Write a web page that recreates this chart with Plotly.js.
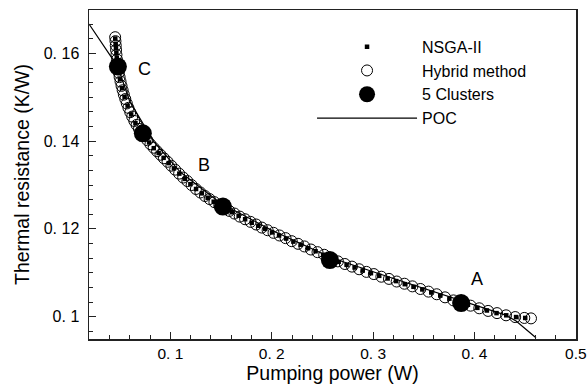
<!DOCTYPE html>
<html>
<head>
<meta charset="utf-8">
<script src="https://cdn.plot.ly/plotly-3.0.1.min.js"></script>
<style>html,body{margin:0;padding:0;background:#fff;}#chart{width:587px;height:392px;}</style>
</head>
<body>
<div id="chart"></div>
<script>
// Hybrid method (open circles)
const hybridX = [0.0455,0.0458,0.0461,0.0464,0.0468,0.0473,0.0478,0.0484,0.0491,0.0499,0.0508,0.0518,0.0529,0.0541,0.0555,0.0570,0.0586,0.0604,0.0623,0.0644,0.0666,0.0690,0.0715,0.0745,0.0773,0.0803,0.0835,0.0868,0.0902,0.0936,0.0972,0.1009,0.1047,0.1086,0.1126,0.1167,0.1209,0.1252,0.1296,0.1341,0.1387,0.1434,0.1482,0.1531,0.1581,0.1632,0.1684,0.1737,0.1791,0.1846,0.1902,0.1959,0.2017,0.2076,0.2136,0.2197,0.2259,0.2322,0.2386,0.2451,0.2517,0.2584,0.2652,0.2721,0.2791,0.2862,0.2934,0.3007,0.3081,0.3156,0.3232,0.3309,0.3387,0.3466,0.3546,0.3627,0.3709,0.3792,0.3876,0.3961,0.4047,0.4134,0.4222,0.4311,0.4401,0.4491,0.4557];
const hybridY = [0.1637,0.1628,0.1618,0.1608,0.1597,0.1586,0.1576,0.1566,0.1556,0.1546,0.1536,0.1526,0.1516,0.1506,0.1496,0.1486,0.1476,0.1466,0.1456,0.1446,0.1437,0.1428,0.1420,0.1412,0.1402,0.1393,0.1385,0.1377,0.1369,0.1361,0.1353,0.1344,0.1335,0.1326,0.1317,0.1309,0.1300,0.1291,0.1283,0.1275,0.1268,0.1261,0.1254,0.1248,0.1241,0.1235,0.1228,0.1222,0.1216,0.1210,0.1203,0.1197,0.1191,0.1185,0.1179,0.1172,0.1166,0.1160,0.1153,0.1147,0.1141,0.1132,0.1126,0.1120,0.1114,0.1108,0.1102,0.1097,0.1091,0.1086,0.1080,0.1075,0.1069,0.1063,0.1057,0.1051,0.1044,0.1037,0.1031,0.1025,0.1019,0.1013,0.1008,0.1003,0.0999,0.0997,0.0996];

// NSGA-II (small squares)
const nsgaX = [0.0456,0.0460,0.0463,0.0467,0.0471,0.0476,0.0487,0.0503,0.0523,0.0548,0.0578,0.0613,0.0655,0.0702,0.0745,0.0790,0.0836,0.0884,0.0933,0.0983,0.1035,0.1088,0.1142,0.1197,0.1253,0.1310,0.1368,0.1427,0.1487,0.1548,0.1610,0.1673,0.1737,0.1802,0.1868,0.1935,0.2003,0.2072,0.2142,0.2213,0.2285,0.2358,0.2432,0.2507,0.2583,0.2660,0.2738,0.2817,0.2897,0.2978,0.3060,0.3143,0.3227,0.3312,0.3398,0.3485,0.3573,0.3662,0.3752,0.3843,0.3935,0.4028,0.4122,0.4217,0.4313,0.4410,0.4500];
const nsgaY = [0.1634,0.1622,0.1612,0.1601,0.1590,0.1580,0.1561,0.1541,0.1521,0.1501,0.1481,0.1461,0.1441,0.1424,0.1411,0.1397,0.1384,0.1373,0.1362,0.1350,0.1338,0.1326,0.1314,0.1302,0.1291,0.1281,0.1271,0.1262,0.1253,0.1245,0.1238,0.1230,0.1222,0.1214,0.1207,0.1200,0.1192,0.1185,0.1178,0.1171,0.1164,0.1156,0.1149,0.1141,0.1133,0.1125,0.1118,0.1112,0.1105,0.1099,0.1093,0.1087,0.1081,0.1074,0.1068,0.1062,0.1055,0.1048,0.1041,0.1034,0.1027,0.1020,0.1014,0.1008,0.1003,0.0999,0.0997];

// 5 Clusters (large filled circles)
const clusterX = [0.0482,0.0728,0.1518,0.2573,0.3868];
const clusterY = [0.1570,0.1418,0.1251,0.1129,0.1031];

// POC line
const pocX = [0.0197,0.0305,0.0410,0.0480,0.0600,0.0836,0.1100,0.1500,0.2000,0.2600,0.3200,0.3900,0.4300,0.4410,0.4606];
const pocY = [0.1667,0.1631,0.1595,0.1570,0.1490,0.1399,0.1329,0.1258,0.1197,0.1133,0.1087,0.1035,0.1004,0.0990,0.0952];

// Point labels
const labelText = ['C','B','A'];
const labelX = [0.0744,0.1334,0.4028];
const labelY = [0.1564,0.1346,0.1086];

// Tick labels (as printed in the figure)
const xTickVals = [0.1,0.2,0.3,0.4,0.5];
const xTickText = ['0. 1','0. 2','0. 3','0. 4','0.5'];
const yTickVals = [0.1,0.12,0.14,0.16];
const yTickText = ['0. 1','0. 12','0. 14','0. 16'];

const FONT = 'Liberation Sans, Arial, Helvetica, sans-serif';

const traces = [
  {x: hybridX, y: hybridY, name: 'Hybrid method', type: 'scatter', mode: 'markers',
   legendrank: 2, legendgroup: 'g2',
   marker: {symbol: 'circle-open', size: 11, color: '#000', line: {width: 1, color: '#000'}}},
  {x: nsgaX, y: nsgaY, name: 'NSGA-II', type: 'scatter', mode: 'markers',
   legendrank: 1, legendgroup: 'g1',
   marker: {symbol: 'square', size: 4.5, color: '#000'}},
  {x: pocX, y: pocY, name: 'POC', type: 'scatter', mode: 'lines',
   legendrank: 4, legendgroup: 'g4',
   line: {color: '#000', width: 1.2}},
  {x: clusterX, y: clusterY, name: '5 Clusters', type: 'scatter', mode: 'markers',
   legendrank: 3, legendgroup: 'g3',
   marker: {symbol: 'circle', size: 18, color: '#000'}}
];

const annotations = labelText.map((t, i) => ({
  x: labelX[i], y: labelY[i], xref: 'x', yref: 'y', text: t, showarrow: false,
  font: {family: FONT, size: 18, color: '#000'}
}));

const layout = {
  width: 587, height: 392,
  margin: {l: 89, r: 11, t: 10, b: 53},
  paper_bgcolor: '#fff', plot_bgcolor: '#fff',
  font: {family: FONT, color: '#000'},
  showlegend: true,
  legend: {x: 0.458, y: 0.94, xanchor: 'left', yanchor: 'top',
    bgcolor: 'rgba(0,0,0,0)', font: {family: FONT, size: 16, color: '#000'},
    traceorder: 'grouped', tracegroupgap: 0, itemwidth: 100},
  xaxis: {range: [0.0197, 0.5001], tickvals: xTickVals, ticktext: xTickText, ticks: 'inside', ticklen: 7, tickwidth: 1.2,
    tickcolor: '#222', showline: true, linecolor: '#222', linewidth: 1.5, mirror: true,
    showgrid: false, zeroline: false, ticklabeloverflow: 'allow',
    tickfont: {family: FONT, size: 15.5, color: '#000'},
    minor: {dtick: 0.02, tick0: 0, ticks: 'inside', ticklen: 4, tickwidth: 1, tickcolor: '#222', showgrid: false},
    title: {text: 'Pumping power (W)', font: {family: FONT, size: 19.5, color: '#000'}, standoff: 5}},
  yaxis: {range: [0.0949, 0.1699], tickvals: yTickVals, ticktext: yTickText, ticks: 'inside', ticklen: 7, tickwidth: 1.2,
    tickcolor: '#222', showline: true, linecolor: '#222', linewidth: 1.5, mirror: true,
    showgrid: false, zeroline: false, ticklabelstandoff: 5,
    tickfont: {family: FONT, size: 16, color: '#000'},
    minor: {dtick: 0.02/6, tick0: 0.1, ticks: 'inside', ticklen: 4, tickwidth: 1, tickcolor: '#222', showgrid: false},
    title: {text: 'Thermal resistance (K/W)', font: {family: FONT, size: 19.5, color: '#000'}, standoff: 9}},
  annotations: annotations
};

Plotly.newPlot('chart', traces, layout, {displayModeBar: false, staticPlot: true});
</script>
</body>
</html>
